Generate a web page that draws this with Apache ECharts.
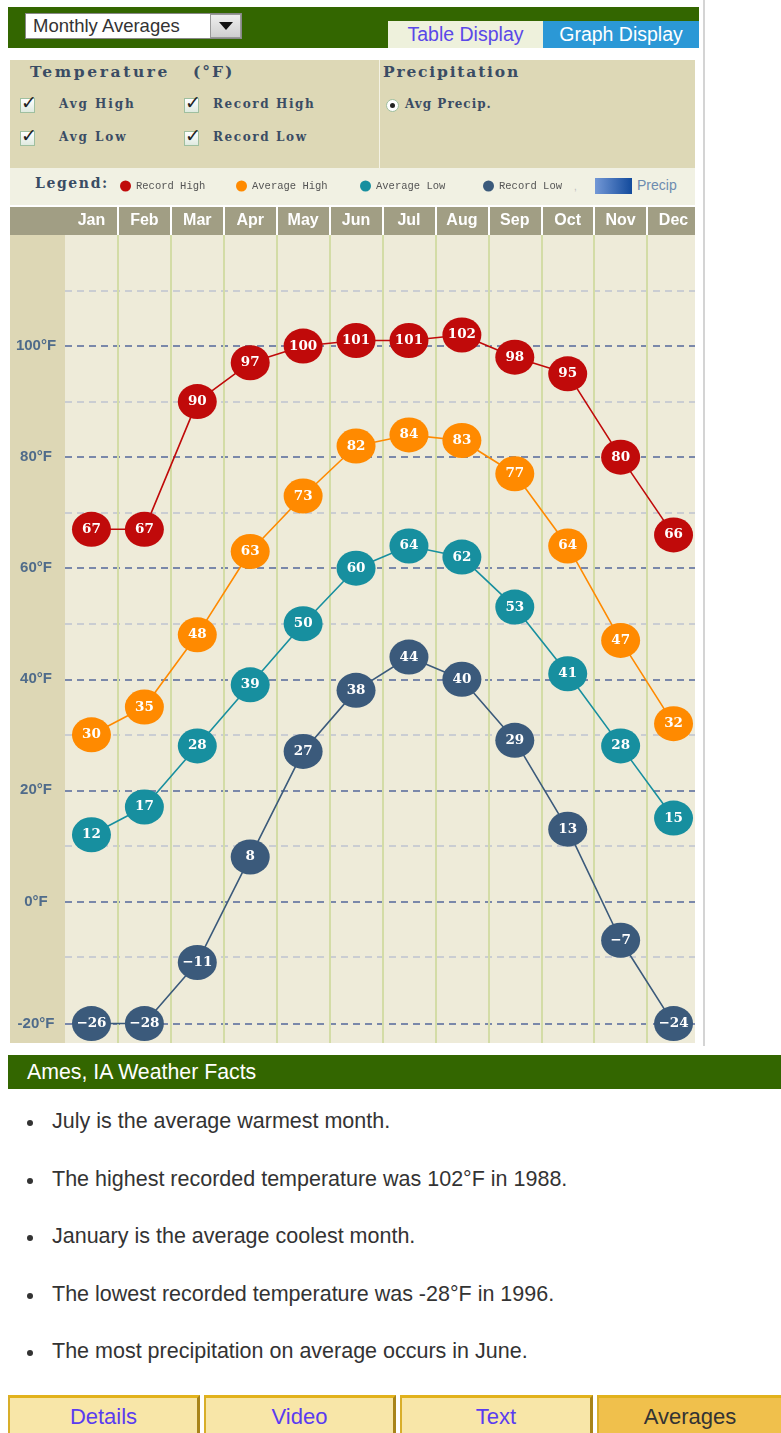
<!DOCTYPE html>
<html>
<head>
<meta charset="utf-8">
<script src="https://cdn.jsdelivr.net/npm/echarts@6/dist/echarts.min.js"></script>
<style>
  html, body { margin:0; padding:0; background:#fff; }
  body { width:781px; height:1433px; position:relative; overflow:hidden; font-family:"Liberation Sans", Arial, sans-serif; }
  .abs { position:absolute; }
  .ser { font-family:"DejaVu Serif", serif; font-weight:bold; color:#3a4c64; white-space:nowrap; }
  .cb { position:absolute; width:15px; height:15px; border:1px solid #9fbf9f; background:linear-gradient(#ffffff,#dfeadf); box-sizing:border-box; }
  .cb span { position:absolute; left:0px; top:-8px; font:bold 19px "DejaVu Sans", sans-serif; color:#222; }
  .tab { position:absolute; top:1395px; height:40px; box-sizing:border-box; background:#f8e6a8; border-top:3px solid #e2b21c; border-left:2px solid #d8ae2a; border-right:3px solid #a8841a; text-align:center; font-size:22px; line-height:38px; color:#5a3cf0; }
  .bul { position:absolute; left:52px; font-size:21.5px; color:#333; white-space:nowrap; }
  .dot { position:absolute; left:27px; width:6px; height:6px; border-radius:3px; background:#333; }
</style>
</head>
<body>
<!-- top bar -->
<div class="abs" style="left:8px;top:7px;width:691px;height:41px;background:#336600;"></div>
<div class="abs" style="left:25px;top:13px;width:217px;height:26px;background:#fff;border:1px solid #888;box-sizing:border-box;"></div>
<div class="abs" style="left:33px;top:14px;font-size:18.5px;line-height:24px;color:#333;">Monthly Averages</div>
<div class="abs" style="left:210px;top:14px;width:31px;height:24px;background:linear-gradient(#eee,#cfcfcf);border:1px solid #999;box-sizing:border-box;"></div>
<div class="abs" style="left:219px;top:22px;width:0;height:0;border-left:7px solid transparent;border-right:7px solid transparent;border-top:8px solid #111;"></div>
<div class="abs" style="left:388px;top:21px;width:155px;height:27px;background:#eef1dc;color:#5a48e8;font-size:19.5px;line-height:27px;text-align:center;">Table Display</div>
<div class="abs" style="left:543px;top:21px;width:156px;height:27px;background:#2b98d6;color:#fff;font-size:19.5px;line-height:27px;text-align:center;">Graph Display</div>
<div class="abs" style="left:703px;top:0;width:2px;height:1046px;background:#d4d4d4;"></div>

<!-- options panel -->
<div class="abs" style="left:10px;top:60px;width:685px;height:108px;background:#ddd8b6;"></div>
<div class="abs" style="left:379px;top:60px;width:1px;height:108px;background:#f4f2e4;"></div>
<div class="abs ser" style="left:30px;top:62px;font-size:15.5px;letter-spacing:2.6px;">Temperature</div>
<div class="abs ser" style="left:193px;top:62px;font-size:15.5px;letter-spacing:2px;">(°F)</div>
<div class="abs ser" style="left:383px;top:62px;font-size:15.5px;letter-spacing:1.8px;">Precipitation</div>
<div class="cb" style="left:20px;top:98px;"><span>✓</span></div>
<div class="cb" style="left:20px;top:131px;"><span>✓</span></div>
<div class="cb" style="left:184px;top:98px;"><span>✓</span></div>
<div class="cb" style="left:184px;top:131px;"><span>✓</span></div>
<div class="abs ser" style="left:59px;top:97px;font-size:12px;letter-spacing:1.9px;">Avg High</div>
<div class="abs ser" style="left:59px;top:130px;font-size:12px;letter-spacing:1.9px;">Avg Low</div>
<div class="abs ser" style="left:213px;top:97px;font-size:12px;letter-spacing:1.6px;">Record High</div>
<div class="abs ser" style="left:213px;top:130px;font-size:12px;letter-spacing:1.6px;">Record Low</div>
<div class="abs" style="left:386px;top:99px;width:13px;height:13px;border-radius:7px;background:#fff;border:1px solid #9fbf9f;box-sizing:border-box;"></div>
<div class="abs" style="left:390px;top:103px;width:5px;height:5px;border-radius:3px;background:#222;"></div>
<div class="abs ser" style="left:405px;top:97px;font-size:12px;letter-spacing:1px;">Avg Precip.</div>

<!-- legend row -->
<div class="abs" style="left:10px;top:168px;width:685px;height:37px;background:#f1f1e3;"></div>
<div class="abs ser" style="left:35px;top:175px;font-size:14px;letter-spacing:1.6px;">Legend:</div>
<div class="abs" style="left:574px;top:181px;font-size:10px;color:#bbb;">,</div>
<div class="abs" style="left:595px;top:178px;width:37px;height:16px;background:linear-gradient(90deg,#7398d6,#124a9c);"></div>
<div class="abs" style="left:637px;top:177px;font-size:14px;color:#6d8cb0;">Precip</div>

<!-- header + label column backgrounds -->
<div class="abs" style="left:10px;top:207px;width:685px;height:28px;background:#a19e84;"></div>
<div class="abs" style="left:10px;top:235px;width:55px;height:808px;background:#ddd7b5;"></div>

<!-- chart -->
<div id="chart" class="abs" style="left:0;top:0;width:695px;height:1050px;"></div>

<!-- facts -->
<div class="abs" style="left:8px;top:1055px;width:773px;height:34px;background:#336600;"></div>
<div class="abs" style="left:27px;top:1055px;font-size:21.3px;line-height:34px;color:#fff;">Ames, IA Weather Facts</div>
<div id="facts"></div>

<!-- bottom tabs -->
<div class="tab" style="left:8px;width:192px;">Details</div>
<div class="tab" style="left:204px;width:192px;">Video</div>
<div class="tab" style="left:400px;width:193px;">Text</div>
<div class="tab" style="left:597px;width:184px;background:#f0c04c;color:#333;border-right:none;">Averages</div>

<script>
// ---- data ----
const months = ['Jan','Feb','Mar','Apr','May','Jun','Jul','Aug','Sep','Oct','Nov','Dec'];
const recordHigh = [67, 67, 90, 97, 100, 101, 101, 102, 98, 95, 80, 66];
const avgHigh    = [30, 35, 48, 63, 73, 82, 84, 83, 77, 64, 47, 32];
const avgLow     = [12, 17, 28, 39, 50, 60, 64, 62, 53, 41, 28, 15];
const recordLow  = [-26, -28, -11, 8, 27, 38, 44, 40, 29, 13, -7, -24];
const majorTicks = [-20, 0, 20, 40, 60, 80, 100];
const minorTicks = [-10, 10, 30, 50, 70, 90, 110];
const facts = [
  'July is the average warmest month.',
  'The highest recorded temperature was 102°F in 1988.',
  'January is the average coolest month.',
  'The lowest recorded temperature was -28°F in 1996.',
  'The most precipitation on average occurs in June.'
];

// the original graph pins everything below its bottom line (labelled -20°F) onto that line
const DISPLAY_FLOOR = -22;
const Y_MIN = -25.5, Y_MAX = 120;

// facts list
const fc = document.getElementById('facts');
facts.forEach((t, i) => {
  const y = 1122 + i * 57.5;
  const d = document.createElement('div'); d.className = 'dot'; d.style.top = (y - 2) + 'px'; fc.appendChild(d);
  const s = document.createElement('div'); s.className = 'bul'; s.style.top = (y - 13) + 'px'; s.textContent = t; fc.appendChild(s);
});

const majorPos = majorTicks.map(t => t === majorTicks[0] ? DISPLAY_FLOOR : t);

function mkSeries(name, vals, color) {
  return {
    name, type: 'line', data: vals.map(v => ({ value: Math.max(v, DISPLAY_FLOOR), raw: v })),
    symbol: 'circle', symbolSize: [39, 35], clip: false,
    itemStyle: { color: color },
    lineStyle: { color: color, width: 1.6 },
    label: { show: true, position: 'inside', color: '#fff', fontFamily: 'DejaVu Serif', fontWeight: 'bold', fontSize: 13.5,
      formatter: p => String(p.data.raw).replace('-', '\u2212') },
    emphasis: { disabled: true }, animation: false
  };
}

const legendCommon = { top: 180.5, padding: 0, itemWidth: 11, itemHeight: 11, icon: 'circle', selectedMode: false, itemGap: 0,
  textStyle: { fontFamily: 'Liberation Mono', fontSize: 10.5, color: '#555' } };

const chart = echarts.init(document.getElementById('chart'), null, { renderer: 'canvas' });
chart.setOption({
  animation: false,
  legend: [
    Object.assign({ left: 120, data: ['Record High'] }, legendCommon),
    Object.assign({ left: 236, data: ['Average High'] }, legendCommon),
    Object.assign({ left: 360, data: ['Average Low'] }, legendCommon),
    Object.assign({ left: 483, data: ['Record Low'] }, legendCommon)
  ],
  grid: { left: 65, top: 235, width: 635, height: 808, show: true, backgroundColor: '#eeebd9', borderWidth: 0,
    containLabel: false, outerBoundsMode: 'none' },
  xAxis: {
    type: 'category', data: months, position: 'top', boundaryGap: true,
    axisLine: { show: false, onZero: false },
    axisTick: { show: true, length: 28, interval: (i) => i > 0, lineStyle: { color: '#ffffff', width: 2 } },
    axisLabel: { color: '#fff', fontWeight: 'bold', fontSize: 16, fontFamily: 'Liberation Sans', margin: 6 },
    splitLine: { show: true, interval: (i) => i > 0, lineStyle: { color: '#d3dca6', width: 2 } }
  },
  yAxis: [
    { type: 'value', min: Y_MIN, max: Y_MAX,
      axisLine: { show: false },
      axisTick: { show: false, customValues: majorPos },
      axisLabel: { customValues: majorPos, align: 'center', margin: 29, color: '#4f6b8a', fontWeight: 'bold', fontSize: 15, fontFamily: 'Liberation Sans',
        formatter: v => (v === DISPLAY_FLOOR ? majorTicks[0] : v) + '°F' },
      splitLine: { show: true, lineStyle: { color: '#7a88aa', width: 2, type: [7, 5] } } },
    { type: 'value', min: Y_MIN, max: Y_MAX, position: 'left',
      axisLine: { show: false },
      axisTick: { show: false, customValues: minorTicks },
      axisLabel: { show: false, customValues: minorTicks },
      splitLine: { show: true, lineStyle: { color: '#cacdd2', width: 2, type: [7, 5] } } }
  ],
  series: [
    mkSeries('Record Low', recordLow, '#3b5a7b'),
    mkSeries('Average Low', avgLow, '#178f9f'),
    mkSeries('Average High', avgHigh, '#ff8a00'),
    mkSeries('Record High', recordHigh, '#c00a0a')
  ]
});
</script>
</body>
</html>
